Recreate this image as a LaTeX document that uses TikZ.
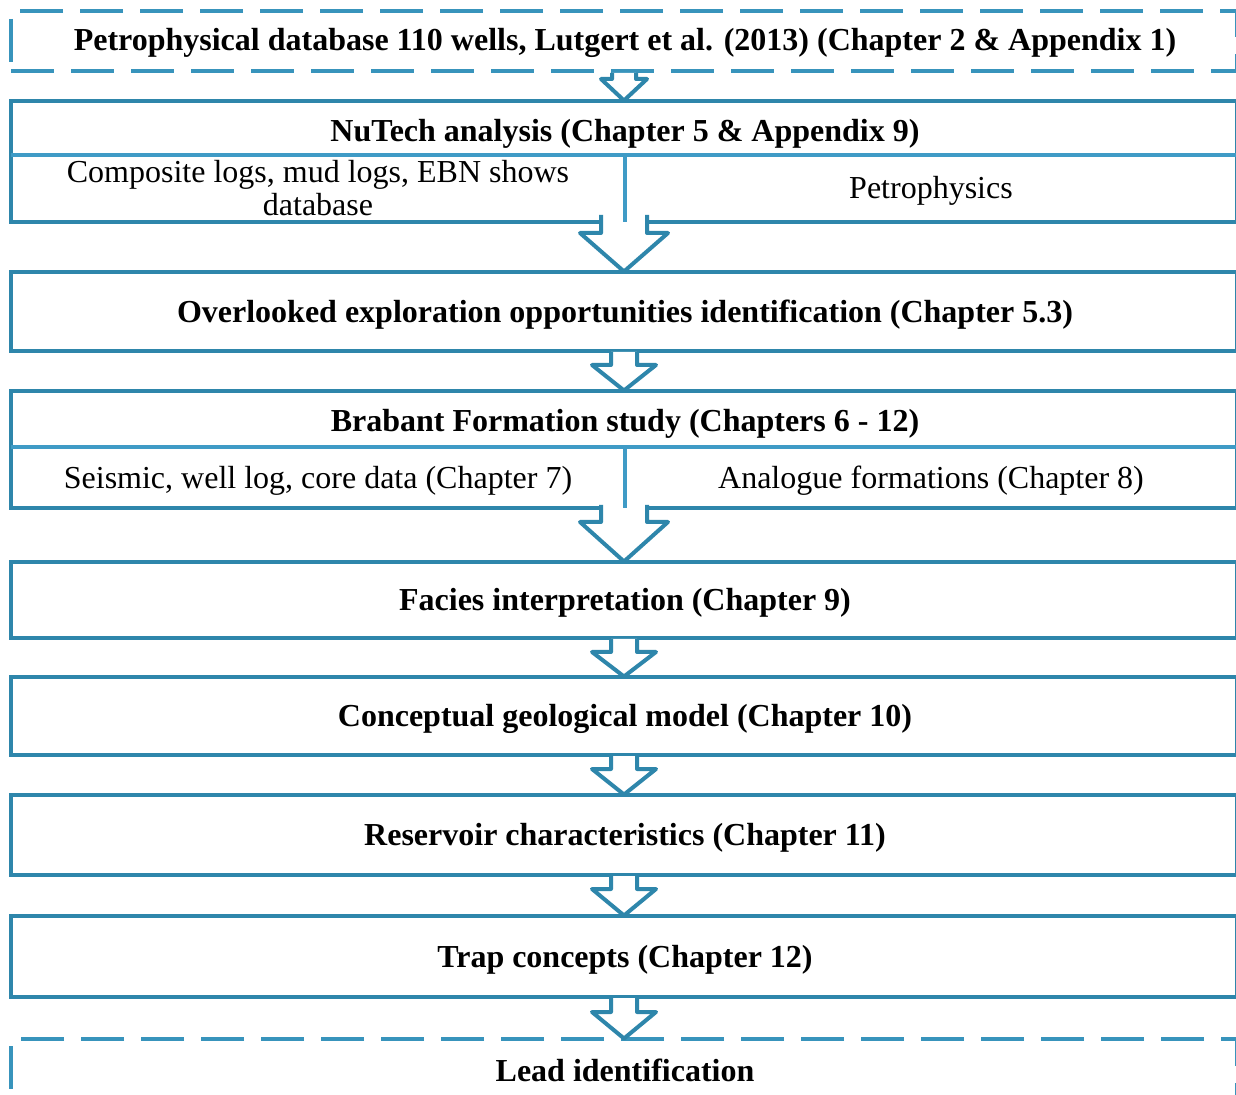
\documentclass[tikz,border=0pt]{standalone}
\usepackage{fontspec}
\setmainfont{Liberation Serif}
\usetikzlibrary{calc}
\definecolor{bordc}{HTML}{2E86AB}
\definecolor{divc}{HTML}{3F9BC6}
\definecolor{dashc}{HTML}{3894BC}
\tikzset{
  box/.style={draw=bordc, line width=2pt, fill=white, rectangle, inner sep=0pt,
    minimum width=613pt},
  dbox/.style={box, draw=dashc, dash pattern=on 21.5pt off 8.5pt},
  lbl/.style={inner sep=0pt, font=\fontsize{16}{16.5}\selectfont, align=center},
  blbl/.style={lbl, font=\fontsize{16}{16.5}\selectfont\bfseries},
  divline/.style={draw=divc, line width=2pt},
  arr/.style={draw=bordc, fill=white, line width=2pt, line join=round},
}
\newcommand\blockarr[6]{%
  \draw[arr] ($(#1.south)+(-#3,-#5)$) -- ($(#1.south)+(-#3,#6)$) -- ($(#1.south)+(-#4,#6)$)
    -- ($(#2.north)+(0,1.5)$) -- ($(#1.south)+(#4,#6)$) -- ($(#1.south)+(#3,#6)$) -- ($(#1.south)+(#3,-#5)$);
}
\begin{document}
\begin{tikzpicture}[x=0.5pt,y=-0.5pt]
\useasboundingbox (0,0) rectangle (1236,1095);
\node[dbox, minimum height=30pt] (b1) at (624,41) {};
\node[box, minimum height=60.5pt] (b2) at (624,161.5) {};
\node[box, minimum height=39.5pt] (b3) at (624,311.5) {};
\node[box, minimum height=58.5pt] (b4) at (624,449.5) {};
\node[box, minimum height=38pt] (b5) at (624,600) {};
\node[box, minimum height=39pt] (b6) at (624,716) {};
\node[box, minimum height=40pt] (b7) at (624,835) {};
\node[box, minimum height=40.5pt] (b8) at (624,956.5) {};
\node[dbox, minimum height=60.5pt] (b9) at (624,1099.5) {};
% arrows
\blockarr{b1}{b2}{12}{23}{0}{6}
\blockarr{b2}{b3}{23}{44}{9}{9}
\blockarr{b3}{b4}{13}{32}{1}{12}
\blockarr{b4}{b5}{23}{44}{5}{12}
\blockarr{b5}{b6}{13}{32}{1}{12}
\blockarr{b6}{b7}{13}{32}{1}{12}
\blockarr{b7}{b8}{13}{32}{1}{12}
\blockarr{b8}{b9}{13}{32}{1}{13}
% dividers
\coordinate (d2l) at (11,155); \coordinate (d2r) at (1237,155);
\coordinate (d2t) at (625,155); \coordinate (d2b) at (625,222);
\draw[divline] (d2l) -- (d2r);
\draw[divline] (d2t) -- (d2b);
\coordinate (d4l) at (11,447); \coordinate (d4r) at (1237,447);
\coordinate (d4t) at (625,447); \coordinate (d4b) at (625,508);
\draw[divline] (d4l) -- (d4r);
\draw[divline] (d4t) -- (d4b);
% texts
\node[blbl] (t1) at (625,43) {Petrophysical database 110 wells, Lutgert et al. (2013) (Chapter 2 \& Appendix 1)};
\node[blbl] (t2) at (625,134) {NuTech analysis (Chapter 5 \& Appendix 9)};
\node[lbl] (t2a) at (318,188) {Composite logs, mud logs, EBN shows\\database};
\node[lbl] (t2b) at (931,191) {Petrophysics};
\node[blbl] (t3) at (625,314.5) {Overlooked exploration opportunities identification (Chapter 5.3)};
\node[blbl] (t4) at (625,424) {Brabant Formation study (Chapters 6 - 12)};
\node[lbl] (t4a) at (318,481) {Seismic, well log, core data (Chapter 7)};
\node[lbl] (t4b) at (931,481) {Analogue formations (Chapter 8)};
\node[blbl] (t5) at (625,603) {Facies interpretation (Chapter 9)};
\node[blbl] (t6) at (625,719) {Conceptual geological model (Chapter 10)};
\node[blbl] (t7) at (625,838) {Reservoir characteristics (Chapter 11)};
\node[blbl] (t8) at (625,960) {Trap concepts (Chapter 12)};
\node[blbl] (t9) at (625,1070) {Lead identification};
\end{tikzpicture}
\end{document}
